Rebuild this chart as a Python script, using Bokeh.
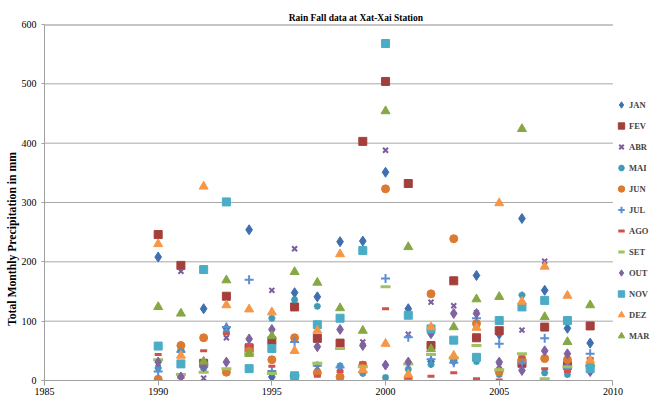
from bokeh.plotting import figure
from bokeh.models import (ColumnDataSource, Range1d, Legend, LegendItem,
                          SingleIntervalTicker)
from bokeh.embed import file_html
from bokeh.resources import INLINE

years = list(range(1990, 2010))

jan = [208, 50, 121, 88, 254, 6, 148, 141, 234, 235, 351, 121, 32, 33, 177, 78, 273, 152, 88, 63]
fev = [246, 194, 29, 142, 55, 67, 124, 71, 63, 403, 504, 332, 59, 168, 72, 84, 29, 90, 25, 92]
abr = [28, 184, 4, 72, 52, 152, 222, 22, 21, 65, 388, 78, 132, 126, 114, 25, 85, 201, 30, 35]
mai = [21, 52, 20, 82, 48, 105, 136, 125, 25, 12, 5, 19, 27, 35, 32, 10, 144, 13, 10, 20]
jun = [2, 59, 72, 14, 50, 35, 72, 13, 6, 26, 323, 3, 146, 239, 96, 15, 35, 37, 35, 25]
jul = [15, 48, 25, 90, 170, 16, 65, 25, 22, 14, 172, 73, 36, 30, 105, 62, 29, 71, 20, 45]
ago = [44, 5, 50, 79, 60, 24, 3, 7, 15, 30, 121, 5, 7, 13, 3, 1, 40, 20, 15, 37]
set_ = [35, 10, 14, 20, 45, 12, 8, 29, 54, 23, 158, 28, 44, 38, 59, 18, 45, 3, 23, 25]
out = [31, 6, 23, 31, 70, 86, 5, 57, 86, 59, 26, 31, 79, 113, 113, 31, 17, 50, 45, 15]
nov = [58, 28, 187, 301, 20, 54, 8, 94, 105, 219, 568, 110, 87, 68, 39, 101, 124, 135, 101, 20]
dez = [230, 42, 327, 127, 120, 115, 50, 84, 213, 18, 62, 10, 90, 42, 89, 299, 133, 192, 143, 34]
mar = [124, 113, 32, 169, 45, 75, 183, 165, 122, 84, 454, 225, 53, 90, 137, 141, 424, 107, 65, 127]

x_axis_start, x_axis_end = 1985, 2010
y_axis_start, y_axis_end = 0, 600
x_ticks_interval = 5
y_ticks_interval = 100
y_grid_values = [100, 200, 300, 400, 500]

title_text = "Rain Fall data at Xat-Xai Station"
ylabel_text = "Total Monthly Precipitation in mm"

# name, values, marker, color, size, line_width
series = [
    ("JAN", jan, "diamond", "#3F6FAE", 10, 1),
    ("FEV", fev, "square", "#A53F3C", 8, 1),
    ("ABR", abr, "x", "#7A5C9C", 7, 2),
    ("MAI", mai, "asterisk", "#3E9AB5", 7, 2),
    ("JUN", jun, "circle", "#DB7A30", 8, 1),
    ("JUL", jul, "cross", "#5B8ED3", 9, 2),
    ("AGO", ago, "dash", "#D2504C", 7, 3),
    ("SET", set_, "dash", "#A2C163", 10, 3),
    ("OUT", out, "diamond", "#7F63A1", 10, 1),
    ("NOV", nov, "square", "#4BACC6", 8, 1),
    ("DEZ", dez, "triangle", "#F79646", 9, 1),
    ("MAR", mar, "triangle", "#86A844", 9, 1),
]

# layout: axis area is 568 px wide; the frame continues to the right edge to hold the legend
LEFT, TOP, BOTTOM, W, H = 44, 24, 21, 650, 401
axis_px = 568.4
frame_w = W - LEFT
x_range_end = x_axis_start + (x_axis_end - x_axis_start) * frame_w / axis_px

p = figure(width=W, height=H, output_backend="svg", toolbar_location=None,
           x_range=Range1d(x_axis_start, x_range_end),
           y_range=Range1d(y_axis_start, y_axis_end),
           min_border_left=LEFT, min_border_right=0, min_border_top=TOP,
           min_border_bottom=BOTTOM)
p.outline_line_color = None
p.background_fill_color = "white"
p.border_fill_color = "white"

nb = "\u00a0"
p.title.text = nb * 7 + title_text
p.title.align = "center"
p.title.standoff = 4
p.title.text_font = "Liberation Serif"
p.title.text_font_size = "9.5px"
p.title.text_font_style = "bold"
p.title.text_color = "black"

p.xgrid.visible = False
p.ygrid.visible = False
p.xaxis.ticker = SingleIntervalTicker(interval=x_ticks_interval, num_minor_ticks=0)
p.yaxis.ticker = SingleIntervalTicker(interval=y_ticks_interval, num_minor_ticks=0)
p.xaxis.bounds = (x_axis_start, x_axis_end)

for ax in (p.xaxis, p.yaxis):
    ax.axis_line_color = "#A0A0A0"
    ax.major_tick_line_color = "#A0A0A0"
    ax.minor_tick_line_color = None
    ax.major_tick_in = 0
    ax.major_label_text_font = "Liberation Serif"
    ax.major_label_text_font_size = "10px"
    ax.major_label_text_color = "black"
p.xaxis.major_tick_out = 5
p.xaxis.major_label_standoff = 2
p.yaxis.major_tick_out = 3
p.yaxis.major_label_standoff = 5

p.yaxis.axis_label = ylabel_text + nb * 25
p.yaxis.axis_label_standoff = 0
p.yaxis.axis_label_text_font = "Liberation Serif"
p.yaxis.axis_label_text_font_size = "11.7px"
p.yaxis.axis_label_text_font_style = "bold"
p.yaxis.axis_label_text_color = "black"

# horizontal gridlines only across the axis span
n = len(y_grid_values)
p.segment(x0=[x_axis_start] * n, x1=[x_axis_end] * n, y0=y_grid_values, y1=y_grid_values,
          line_color="#A8A8A8", line_width=1, level="underlay")
p.segment(x0=[x_axis_start], x1=[x_axis_end], y0=[y_axis_end], y1=[y_axis_end],
          line_color="#8E8E8E", line_width=2, level="underlay")

items = []
for name, vals, marker, color, size, lw in series:
    src = ColumnDataSource(dict(x=years, y=vals))
    r = p.scatter("x", "y", source=src, marker=marker, size=size,
                  fill_color=color, line_color=color, line_width=lw)
    items.append(LegendItem(label=name, renderers=[r]))

legend = Legend(items=items, location=(569, 34), orientation="vertical",
                glyph_width=16, glyph_height=21, label_height=21, spacing=0,
                padding=0, margin=0, border_line_color=None,
                background_fill_alpha=0, label_standoff=0,
                label_text_font="Liberation Serif", label_text_font_size="8.5px",
                label_text_font_style="bold")
p.add_layout(legend)

open("out.html", "w").write(file_html(p, INLINE))
